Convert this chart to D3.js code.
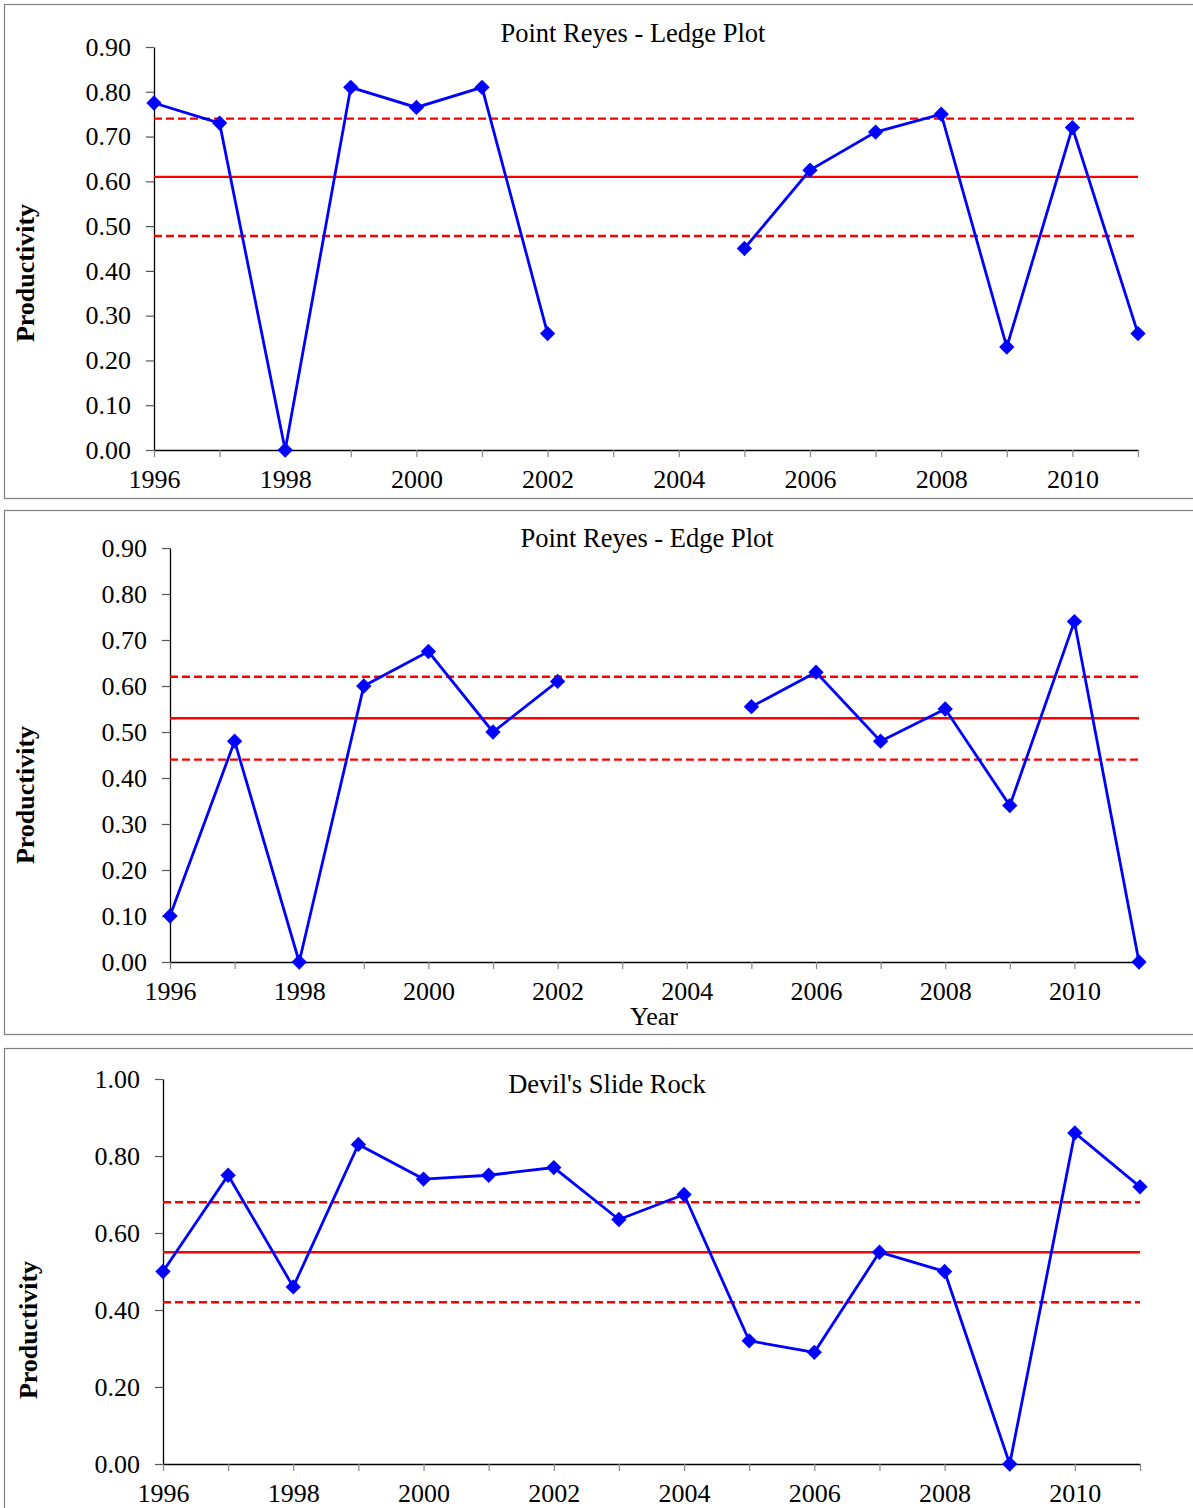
<!DOCTYPE html>
<html>
<head>
<meta charset="utf-8">
<script src="https://cdn.jsdelivr.net/npm/d3@7"></script>
<style>
  html, body { margin: 0; padding: 0; background: #fff; }
  svg { display: block; }
  text { font-family: "Liberation Serif", "Times New Roman", serif; fill: #000; }
</style>
</head>
<body>
<svg id="chart" width="1193" height="1508"></svg>
<script>
// Productivity by year for each colony site (null = no survey that year)
const years = [1996, 1997, 1998, 1999, 2000, 2001, 2002, 2003, 2004, 2005, 2006, 2007, 2008, 2009, 2010, 2011];

const ledgeValues = [0.775, 0.73, 0.00, 0.81, 0.765, 0.81, 0.26, null, null, 0.45, 0.625, 0.71, 0.75, 0.23, 0.72, 0.26];
const edgeValues  = [0.10, 0.48, 0.00, 0.60, 0.675, 0.50, 0.61, null, null, 0.555, 0.63, 0.48, 0.55, 0.34, 0.74, 0.00];
const devilsValues = [0.50, 0.75, 0.46, 0.83, 0.74, 0.75, 0.77, 0.635, 0.70, 0.32, 0.29, 0.55, 0.50, 0.00, 0.86, 0.72];

// Long-term mean and +/- band for each site
const ledgeStats  = { mean: 0.61, upper: 0.74, lower: 0.478 };
const edgeStats   = { mean: 0.53, upper: 0.62, lower: 0.44 };
const devilsStats = { mean: 0.55, upper: 0.68, lower: 0.42 };

const yTicksLedge  = [0, 0.1, 0.2, 0.3, 0.4, 0.5, 0.6, 0.7, 0.8, 0.9];
const yTicksEdge   = [0, 0.1, 0.2, 0.3, 0.4, 0.5, 0.6, 0.7, 0.8, 0.9];
const yTicksDevils = [0, 0.2, 0.4, 0.6, 0.8, 1.0];
const xTickLabels  = [1996, 1998, 2000, 2002, 2004, 2006, 2008, 2010];

const svg = d3.select("#chart");
const FONT = "'Liberation Serif', 'Times New Roman', serif";

const panels = [
  {
    title: "Point Reyes - Ledge Plot", values: ledgeValues, stats: ledgeStats,
    yTicks: yTicksLedge, yMax: 0.9,
    box: { x: 4, y: 4, w: 1200, h: 494 },
    plot: { left: 154, right: 1138, top: 47, bottom: 450 },
    titlePos: [633, 42], yLabelPos: [34, 273], xLabel: null
  },
  {
    title: "Point Reyes - Edge Plot", values: edgeValues, stats: edgeStats,
    yTicks: yTicksEdge, yMax: 0.9,
    box: { x: 4, y: 510, w: 1200, h: 524 },
    plot: { left: 170, right: 1139, top: 548, bottom: 962 },
    titlePos: [647, 547], yLabelPos: [34, 795], xLabel: { text: "Year", x: 654, y: 1025 }
  },
  {
    title: "Devil's Slide Rock", values: devilsValues, stats: devilsStats,
    yTicks: yTicksDevils, yMax: 1.0,
    box: { x: 4, y: 1048, w: 1200, h: 500 },
    plot: { left: 163, right: 1140, top: 1079, bottom: 1464 },
    titlePos: [607, 1093], yLabelPos: [37, 1330], xLabel: null
  }
];

panels.forEach(p => {
  // Panel frame
  svg.append("rect")
    .attr("x", p.box.x + 0.5).attr("y", p.box.y + 0.5)
    .attr("width", p.box.w).attr("height", p.box.h)
    .attr("fill", "#fff").attr("stroke", "#7f7f7f").attr("stroke-width", 1.2);

  const x = d3.scaleLinear().domain([1996, 2011]).range([p.plot.left, p.plot.right]);
  const y = d3.scaleLinear().domain([0, p.yMax]).range([p.plot.bottom, p.plot.top]);

  const g = svg.append("g");

  // Y axis
  const yAxis = d3.axisLeft(y).tickValues(p.yTicks).tickFormat(d3.format(".2f"))
    .tickSize(8).tickPadding(15).tickSizeOuter(0);
  const ya = g.append("g").attr("transform", `translate(${p.plot.left},0)`).call(yAxis);
  ya.attr("font-family", FONT).attr("font-size", 26);
  ya.select(".domain").attr("stroke", "#000").attr("stroke-width", 1.3);
  ya.selectAll(".tick line").attr("stroke", "#555").attr("stroke-width", 1.2);
  ya.selectAll(".tick text").attr("fill", "#000");

  // X axis: a tick for every year, a label every other year
  const xAxis = d3.axisBottom(x).tickValues(years)
    .tickFormat(d => xTickLabels.includes(d) ? String(d) : "")
    .tickSize(7).tickPadding(13).tickSizeOuter(0);
  const xa = g.append("g").attr("transform", `translate(0,${p.plot.bottom})`).call(xAxis);
  xa.attr("font-family", FONT).attr("font-size", 26);
  xa.select(".domain").attr("stroke", "#000").attr("stroke-width", 1.3);
  xa.selectAll(".tick line").attr("stroke", "#888").attr("stroke-width", 1.2);
  xa.selectAll(".tick text").attr("fill", "#000");

  // Mean and band lines
  const refLines = [
    { v: p.stats.upper, dash: "8,4" },
    { v: p.stats.mean, dash: null },
    { v: p.stats.lower, dash: "8,4" }
  ];
  refLines.forEach(r => {
    g.append("line")
      .attr("x1", p.plot.left).attr("x2", p.plot.right)
      .attr("y1", y(r.v)).attr("y2", y(r.v))
      .attr("stroke", "#ff0000").attr("stroke-width", 2.4)
      .attr("stroke-dasharray", r.dash);
  });

  // Data line (breaks on missing years)
  const pts = years.map((yr, i) => ({ yr, v: p.values[i] }));
  const line = d3.line().defined(d => d.v !== null).x(d => x(d.yr)).y(d => y(d.v));
  g.append("path").datum(pts)
    .attr("d", line).attr("fill", "none")
    .attr("stroke", "#0000ff").attr("stroke-width", 2.8).attr("stroke-linejoin", "miter");

  // Diamond markers
  const diamond = d3.symbol().type(d3.symbolDiamond2).size(150);
  g.selectAll("path.marker").data(pts.filter(d => d.v !== null)).enter()
    .append("path").attr("class", "marker")
    .attr("d", diamond)
    .attr("transform", d => `translate(${x(d.yr)},${y(d.v)})`)
    .attr("fill", "#0000ff");

  // Title
  svg.append("text").attr("x", p.titlePos[0]).attr("y", p.titlePos[1])
    .attr("text-anchor", "middle").style("font-size", "26.5px").text(p.title);

  // Y label
  svg.append("text")
    .attr("transform", `translate(${p.yLabelPos[0]},${p.yLabelPos[1]}) rotate(-90)`)
    .attr("text-anchor", "middle").style("font-size", "26px").style("font-weight", "bold")
    .text("Productivity");

  if (p.xLabel) {
    svg.append("text").attr("x", p.xLabel.x).attr("y", p.xLabel.y)
      .attr("text-anchor", "middle").style("font-size", "26px").text(p.xLabel.text);
  }
});
</script>
</body>
</html>
